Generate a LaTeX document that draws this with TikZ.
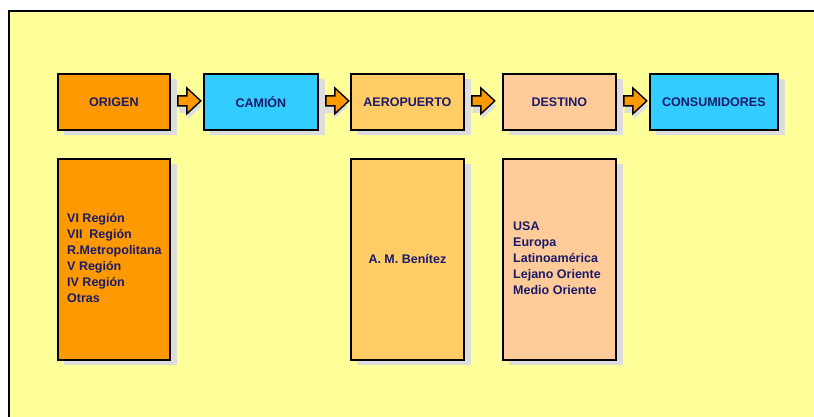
\documentclass[tikz,border=0pt]{standalone}
\usepackage{fontspec}
\setmainfont{Liberation Sans}
\usetikzlibrary{calc}
\definecolor{bg}{HTML}{FFFF99}
\definecolor{txt}{HTML}{1A1A6A}
\definecolor{orig}{HTML}{FF9900}
\definecolor{cyan1}{HTML}{33CCFF}
\definecolor{aero}{HTML}{FFCC66}
\definecolor{dest}{HTML}{FFCC99}
\definecolor{shad}{HTML}{DDDDDD}
\tikzset{
  box/.style={draw=black, line width=1.8pt, minimum width=112pt, minimum height=56pt, inner sep=0pt,
    font=\fontsize{12.5}{16}\selectfont\bfseries, text=txt, anchor=north west},
  tallbox/.style={box, minimum height=201pt},
  arrowshape/.style={fill=orig, draw=black, line width=1.4pt, line join=miter},
  listtext/.style={font=\fontsize{12.5}{16}\selectfont\bfseries, text=txt, align=left, inner sep=0pt}
}
\begin{document}
\begin{tikzpicture}[x=1pt,y=-1pt]
\useasboundingbox (0,0) rectangle (814,417);
\fill[white] (0,0) rectangle (814,417);
\fill[bg] (9,11) rectangle (830,430);
\draw[black, line width=1.8pt] (9,430) -- (9,11) -- (830,11);
% shadows
\foreach \x/\w in {57/112,203/114,350/113,502/113,649/128}{
  \fill[shad] (\x+7,79) rectangle (\x+\w+8,135);
}
\foreach \x/\w in {57/112,350/113,502/113}{
  \fill[shad] (\x+7,164) rectangle (\x+\w+8,365);
}
% arrows shadows
\foreach \x in {176,322,470,622}{
  \fill[shad] (\x+3,101) -- (\x+12,101) -- (\x+12,93) -- (\x+26,106) -- (\x+12,119) -- (\x+12,113) -- (\x+3,113) -- cycle;
}
% top boxes
\node[box, fill=orig, minimum width=112pt] (origen) at (57,73) {ORIGEN};
\node[box, fill=cyan1, minimum width=114pt] (camion) at (203,73) {CAMIÓN};
\node[box, fill=aero, minimum width=113pt] (aeropuerto) at (350,73) {AEROPUERTO};
\node[box, fill=dest, minimum width=113pt] (destino) at (502,73) {DESTINO};
\node[box, fill=cyan1, minimum width=128pt] (consumidores) at (649,73) {CONSUMIDORES};
% arrows
\foreach \a/\b in {origen/camion,camion/aeropuerto,aeropuerto/destino,destino/consumidores}{
  \path (\a.east) ++(7,0) coordinate (s);
  \draw[arrowshape] ($(s)+(0,-6)$) -- ++(9,0) -- ++(0,-8) -- ++(14,13) -- ++(-14,13) -- ++(0,-8) -- ++(-9,0) -- cycle;
}
% lower boxes
\node[tallbox, fill=orig, minimum width=112pt] (origenlist) at (57,158) {};
\node[tallbox, fill=aero, minimum width=113pt] (aerolist) at (350,158) {A. M. Benítez};
\node[tallbox, fill=dest, minimum width=113pt] (destlist) at (502,158) {};
\node[listtext, anchor=north west] (reg) at (67,213) {VI Región\\VII~ Región\\R.Metropolitana\\V Región\\IV Región\\Otras};
\node[listtext, anchor=north west] (dst) at (513,222) {USA\\Europa\\Latinoamérica\\Lejano Oriente\\Medio Oriente};
\end{tikzpicture}
\end{document}
